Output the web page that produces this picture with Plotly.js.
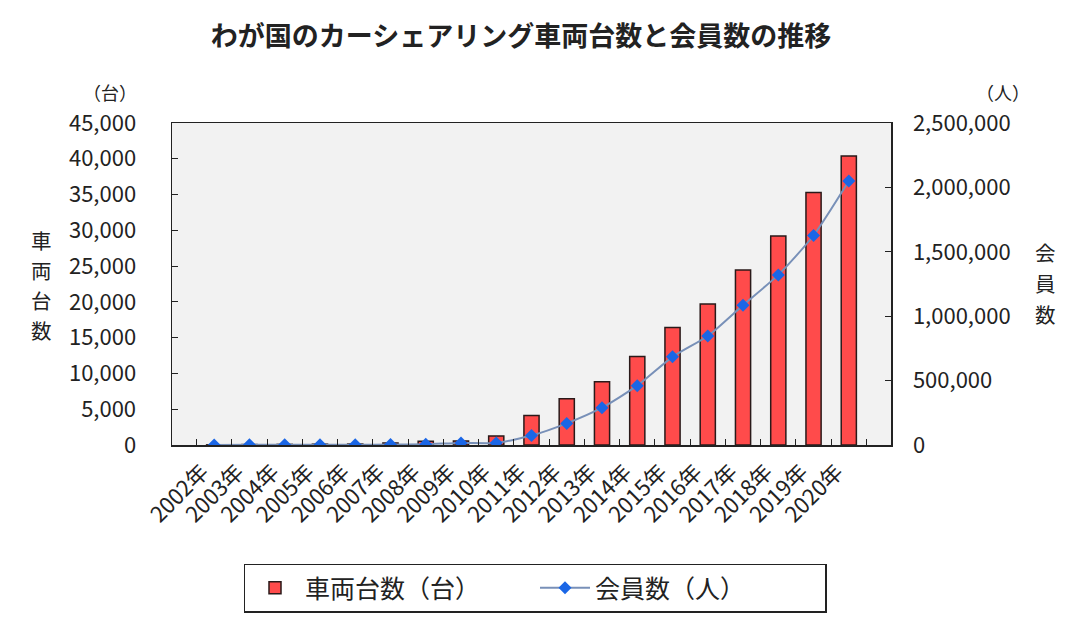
<!DOCTYPE html>
<html>
<head>
<meta charset="utf-8">
<script src="https://cdn.plot.ly/plotly-3.0.1.min.js"></script>
<style>html,body{margin:0;padding:0;background:#fff;}#chart{width:1081px;height:624px;}</style>
</head>
<body>
<div id="chart"></div>
<script>
const years = ["2002年","2003年","2004年","2005年","2006年","2007年","2008年","2009年","2010年","2011年","2012年","2013年","2014年","2015年","2016年","2017年","2018年","2019年","2020年"];
const vehicles = [21, 63, 86, 118, 136, 287, 510, 563, 1265, 4113, 6464, 8831, 12373, 16418, 19717, 24458, 29208, 35298, 40400];
const members = [50, 1000, 1712, 1853, 2725, 3245, 6396, 16177, 15894, 73224, 167745, 289497, 460591, 684286, 846240, 1085922, 1320794, 1626618, 2049209];
const leftTicks = [0,5000,10000,15000,20000,25000,30000,35000,40000,45000];
const rightTicks = [0,500000,1000000,1500000,2000000,2500000];
const leftTitleChars = ["車","両","台","数"];
const rightTitleChars = ["会","員","数"];

const font = "'Noto Sans CJK JP', 'Noto Sans', sans-serif";

const traces = [
  {type:'bar', x: years, y: vehicles, name:'車両台数（台）', width:0.43,
   marker:{color:'#ff4b4b', line:{color:'#2a1a1a', width:1.5}}, yaxis:'y'},
  {type:'scatter', mode:'lines+markers', x: years, y: members, name:'会員数（人）', yaxis:'y2',
   line:{color:'#7890b8', width:2, shape:'spline', smoothing:0.6},
   marker:{symbol:'diamond', size:10, color:'#1a66e6'}}
];

// plot area: x 172..891 px, y 123..447 px
const px = x => (x - 172) / 719;
const py = y => (447 - y) / 324;

const annotations = [
  {text:'（台）', xref:'paper', yref:'paper', x:px(110), y:py(92), xanchor:'center', yanchor:'middle', showarrow:false, font:{size:18}, borderpad:0},
  {text:'（人）', xref:'paper', yref:'paper', x:px(1003), y:py(92), xanchor:'center', yanchor:'middle', showarrow:false, font:{size:18}, borderpad:0}
];
leftTitleChars.forEach((c, i) => annotations.push(
  {text:c, xref:'paper', yref:'paper', x:px(41), y:py(241 + i*30), xanchor:'center', yanchor:'middle',
   showarrow:false, font:{size:20.5}, borderpad:0}));
rightTitleChars.forEach((c, i) => annotations.push(
  {text:c, xref:'paper', yref:'paper', x:px(1045), y:py(253 + i*31), xanchor:'center', yanchor:'middle',
   showarrow:false, font:{size:20.5}, borderpad:0}));

const layout = {
  width:1081, height:624,
  margin:{l:172, r:190, t:123, b:177},
  paper_bgcolor:'#ffffff', plot_bgcolor:'#f2f2f2',
  font:{family:font, color:'#222', size:21},
  title:{text:'<b>わが国のカーシェアリング車両台数と会員数の推移</b>', font:{family:font, size:27, color:'#222'},
         x:0.482, xanchor:'center', yref:'container', y:1-37/624, yanchor:'middle'},
  showlegend:true,
  legend:{orientation:'h', x:px(535), xanchor:'center', y:py(591), yanchor:'middle',
          bordercolor:'#222', borderwidth:1.5, bgcolor:'#fff', font:{size:25, family:font},
          itemwidth:50, entrywidth:225, entrywidthmode:'pixels', traceorder:'normal'},
  xaxis:{type:'category', showline:true, linecolor:'#222', linewidth:1.5, mirror:true,
         ticks:'inside', tickson:'boundaries', ticklen:6, tickcolor:'#222',
         tickangle:-45, tickfont:{size:22, family:font}, ticklabelshift:-12, ticklabelstandoff:4,
         showgrid:false, zeroline:false},
  yaxis:{range:[0,45000], tickvals:leftTicks, tickformat:',', ticks:'inside', ticklen:6,
         tickcolor:'#222', showline:true, linecolor:'#222', linewidth:1.5, showgrid:false,
         zeroline:false, tickfont:{size:22, family:font}, ticklabelstandoff:30},
  yaxis2:{range:[0,2500000], tickvals:rightTicks, tickformat:',', overlaying:'y', side:'right',
          ticks:'inside', ticklen:6, tickcolor:'#222', showline:true, linecolor:'#222', linewidth:1.5,
          showgrid:false, zeroline:false, tickfont:{size:22, family:font}, ticklabelstandoff:16},
  annotations: annotations
};

Plotly.newPlot('chart', traces, layout, {displayModeBar:false, staticPlot:true});
</script>
</body>
</html>
